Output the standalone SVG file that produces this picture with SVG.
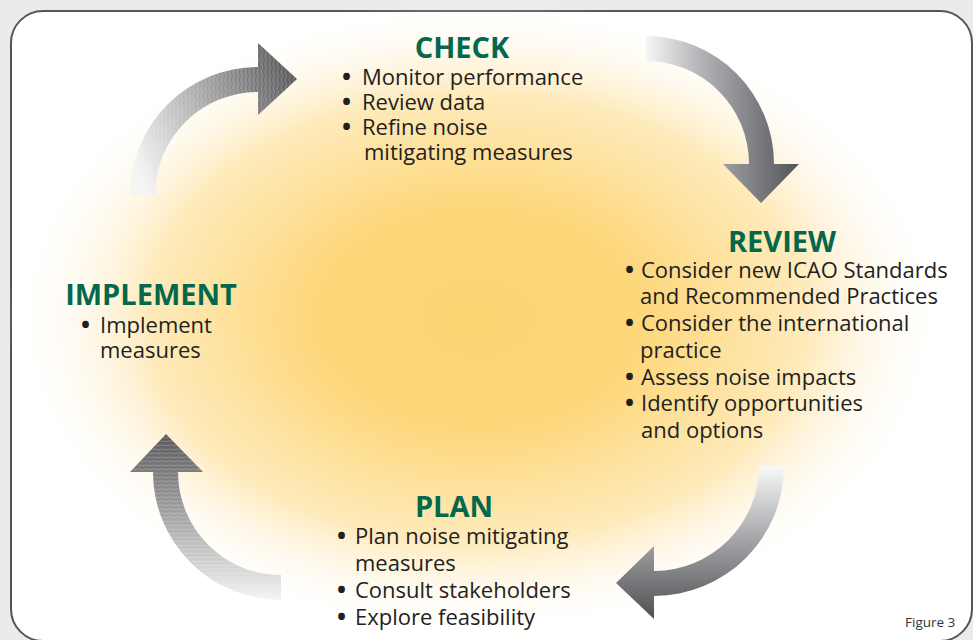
<svg xmlns="http://www.w3.org/2000/svg" width="973" height="640" viewBox="0 0 973 640">
<style>
.h{font-family:"Open Sans","Liberation Sans",sans-serif;font-weight:bold;font-size:29px;fill:#03684c;text-anchor:middle}
.t{font-family:"Open Sans","Liberation Sans",sans-serif;font-size:22px;fill:#231f20}
.b{font-weight:bold;font-size:24px}
.fig{font-family:"Open Sans","Liberation Sans",sans-serif;font-size:13.5px;fill:#333}
</style>
<defs>
<radialGradient id="glow" cx="0.5" cy="0.5" r="0.5">
<stop offset="0" stop-color="#fdd472"/>
<stop offset="0.35" stop-color="#fdd77b"/>
<stop offset="0.7" stop-color="#feeabb"/>
<stop offset="1" stop-color="#ffffff" stop-opacity="0"/>
</radialGradient>
<linearGradient id="g1" gradientUnits="userSpaceOnUse" x1="130" y1="150" x2="297" y2="80">
<stop offset="0" stop-color="#f4f4f4"/>
<stop offset="1" stop-color="#5c5c5e"/>
</linearGradient>
<linearGradient id="g2" gradientUnits="userSpaceOnUse" x1="646" y1="0" x2="799" y2="0">
<stop offset="0" stop-color="#f6f6f6"/>
<stop offset="0.35" stop-color="#b4b5b8"/>
<stop offset="1" stop-color="#535457"/>
</linearGradient>
<linearGradient id="g3" gradientUnits="userSpaceOnUse" x1="0" y1="466" x2="0" y2="619">
<stop offset="0" stop-color="#f9f9f9"/>
<stop offset="0.45" stop-color="#a9aaad"/>
<stop offset="1" stop-color="#4f5052"/>
</linearGradient>
<linearGradient id="g4" gradientUnits="userSpaceOnUse" x1="0" y1="434" x2="0" y2="600">
<stop offset="0" stop-color="#5a5a5c"/>
<stop offset="0.5" stop-color="#a6a6a8"/>
<stop offset="1" stop-color="#f4f4f4"/>
</linearGradient>
<pattern id="vstripe" patternUnits="userSpaceOnUse" width="4" height="8">
<path d="M1 0 L2.5 4 L1 8" fill="none" stroke="#ffffff" stroke-opacity="0.25" stroke-width="0.8"/>
</pattern>
<pattern id="hstripe" patternUnits="userSpaceOnUse" width="8" height="4">
<path d="M0 1 L8 1.6" fill="none" stroke="#ffffff" stroke-opacity="0.25" stroke-width="0.8"/>
</pattern>
</defs>
<rect x="0" y="0" width="973" height="640" fill="#ebebeb"/>
<rect x="11" y="11" width="961" height="630" rx="32" ry="32" fill="#ffffff" stroke="#555555" stroke-width="2"/>
<ellipse cx="478" cy="318" rx="470" ry="320" fill="url(#glow)"/>
<g id="connectors">
<g id="arrow-implement-check">
<path d="M130 195 A128 128 0 0 1 258 67 L258 43 L297 79 L258 115 L258 92 A103 103 0 0 0 155 195 Z" fill="url(#g1)"/>
<path d="M130 195 A128 128 0 0 1 258 67 L258 43 L297 79 L258 115 L258 92 A103 103 0 0 0 155 195 Z" fill="url(#vstripe)"/>
</g>
<g id="arrow-check-review">
<path d="M646 36 A128 128 0 0 1 774 164 L799 164 L761 203 L723 164 L749 164 A103 103 0 0 0 646 61 Z" fill="url(#g2)"/>
</g>
<g id="arrow-review-plan">
<path d="M784 466 A130 130 0 0 1 654 596 L654 619 L616 583 L654 546 L654 571 A105 105 0 0 0 759 466 Z" fill="url(#g3)"/>
</g>
<g id="arrow-plan-implement">
<path d="M281 600 A128 128 0 0 1 153 472 L130 472 L166 434 L203 472 L178 472 A103 103 0 0 0 281 575 Z" fill="url(#g4)"/>
<path d="M281 600 A128 128 0 0 1 153 472 L130 472 L166 434 L203 472 L178 472 A103 103 0 0 0 281 575 Z" fill="url(#hstripe)"/>
</g>
</g>
<g id="check">
<text class="h" x="462" y="58">CHECK</text>
<text class="t" x="342" y="85"><tspan class="b">•</tspan><tspan x="362">Monitor performance</tspan></text>
<text class="t" x="342" y="110"><tspan class="b">•</tspan><tspan x="362">Review data</tspan></text>
<text class="t" x="342" y="135"><tspan class="b">•</tspan><tspan x="362">Refine noise</tspan></text>
<text class="t" x="364" y="160">mitigating measures</text>
</g>
<g id="review">
<text class="h" x="782" y="252">REVIEW</text>
<text class="t" x="625" y="278"><tspan class="b">•</tspan><tspan x="641">Consider new ICAO Standards</tspan></text>
<text class="t" x="640" y="304">and Recommended Practices</text>
<text class="t" x="625" y="331"><tspan class="b">•</tspan><tspan x="641">Consider the international</tspan></text>
<text class="t" x="640" y="358">practice</text>
<text class="t" x="625" y="385"><tspan class="b">•</tspan><tspan x="641">Assess noise impacts</tspan></text>
<text class="t" x="625" y="411"><tspan class="b">•</tspan><tspan x="641">Identify opportunities</tspan></text>
<text class="t" x="641" y="438">and options</text>
</g>
<g id="implement">
<text class="h" x="151" y="305">IMPLEMENT</text>
<text class="t" x="81" y="333"><tspan class="b">•</tspan><tspan x="100">Implement</tspan></text>
<text class="t" x="100" y="358">measures</text>
</g>
<g id="plan">
<text class="h" x="454" y="517">PLAN</text>
<text class="t" x="337" y="544"><tspan class="b">•</tspan><tspan x="355">Plan noise mitigating</tspan></text>
<text class="t" x="355" y="571">measures</text>
<text class="t" x="337" y="598"><tspan class="b">•</tspan><tspan x="355">Consult stakeholders</tspan></text>
<text class="t" x="337" y="625"><tspan class="b">•</tspan><tspan x="355">Explore feasibility</tspan></text>
</g>
<text class="fig" x="905" y="627">Figure 3</text>
</svg>
